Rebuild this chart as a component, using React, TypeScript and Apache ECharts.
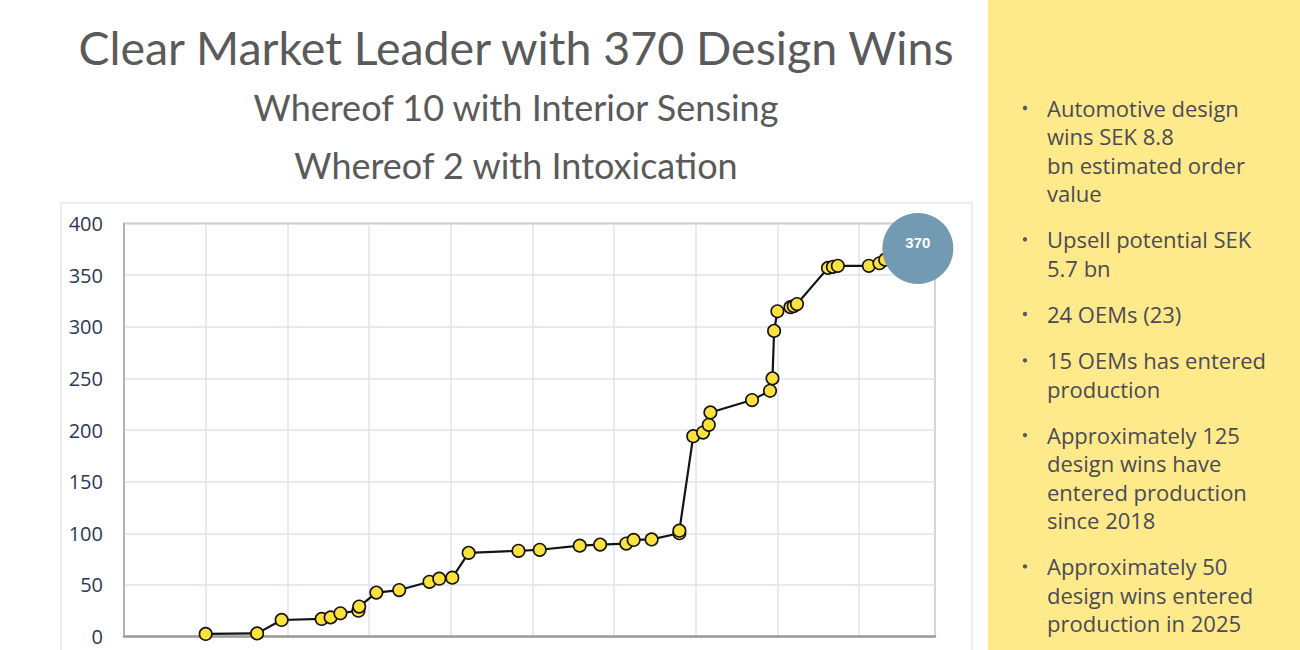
import React, { useEffect, useRef } from "react";
import * as echarts from "echarts";

// Cumulative design wins over time (x = years from axis start, y = total wins)
const winYears = [
  1.0, 1.63, 1.93, 2.42, 2.53, 2.65, 2.87, 2.88, 3.09, 3.37, 3.74, 3.86, 4.02,
  4.22, 4.83, 5.09, 5.58, 5.83, 6.15, 6.24, 6.46, 6.8, 6.8, 6.97, 7.09, 7.16,
  7.18, 7.69, 7.91, 7.94, 7.96, 8.0, 8.16, 8.2, 8.24, 8.62, 8.68, 8.74, 9.12,
  9.25, 9.32,
];
const winTotals = [
  2.5, 3, 16, 17, 18.5, 22.5, 25, 29, 42.5, 45, 53, 56, 57, 81, 83, 84, 88, 89,
  90, 93.5, 94, 100, 102.5, 194, 197.5, 205, 217, 229, 238, 250, 296, 315, 319,
  320, 322, 357, 358, 359, 359, 361.5, 365,
];

// Headline total shown in the bubble
const totalWins = 370;
const totalYear = 9.72;

const yMin = 0;
const yMax = 400;
const yStep = 50;
const xMin = 0;
const xMax = 9.93;
const xStep = 1;

const titleText = "Clear Market Leader with 370 Design Wins";
const subtitleLines = [
  "Whereof 10 with Interior Sensing",
  "Whereof 2 with Intoxication",
];

const bulletItems = [
  ["Automotive design", "wins SEK 8.8", "bn estimated order", "value"],
  ["Upsell potential SEK", "5.7 bn"],
  ["24 OEMs (23)"],
  ["15 OEMs has entered", "production"],
  ["Approximately 125", "design wins have", "entered production", "since 2018"],
  ["Approximately 50", "design wins entered", "production in 2025"],
];

const HEAD_FONT = "Lato, 'Open Sans', sans-serif";
const BODY_FONT = "'Open Sans', Lato, sans-serif";

function buildBulletGraphics() {
  const out: any[] = [];
  const lineH = 28.3;
  const gap = 18.1;
  let y = 108;
  bulletItems.forEach((lines) => {
    out.push({
      type: "circle",
      shape: { cx: 1025, cy: y, r: 2.2 },
      style: { fill: "#5a5a62" },
    });
    lines.forEach((ln) => {
      out.push({
        type: "text",
        style: {
          text: ln,
          x: 1047,
          y,
          fill: "#4b4b55",
          fontSize: 22,
          fontFamily: BODY_FONT,
          textAlign: "left",
          textVerticalAlign: "middle",
        },
      });
      y += lineH;
    });
    y += gap;
  });
  return out;
}

export default function App() {
  const ref = useRef<HTMLDivElement>(null);

  useEffect(() => {
    if (!ref.current) return;
    const chart = echarts.init(ref.current, undefined, { renderer: "svg" });

    const points = winYears.map((x, i) => [x, winTotals[i]]);

    chart.setOption({
      animation: false,
      backgroundColor: "#ffffff",
      grid: {
        left: 124,
        top: 223.5,
        width: 811,
        height: 413,
        show: true,
        borderColor: "#8e8e8e",
        borderWidth: 1.5,
        backgroundColor: "transparent",
      },
      xAxis: {
        type: "value",
        min: xMin,
        max: xMax,
        interval: xStep,
        axisLabel: { show: false },
        axisTick: { show: false },
        axisLine: { show: true, lineStyle: { color: "#9c9c9c", width: 2.5 } },
        splitLine: { show: true, lineStyle: { color: "#dfe4ec", width: 1.5 } },
      },
      yAxis: {
        type: "value",
        min: yMin,
        max: yMax,
        interval: yStep,
        axisTick: { show: false },
        axisLine: { show: true, lineStyle: { color: "#a6a6a6", width: 1.5 } },
        axisLabel: {
          color: "#2a3956",
          fontSize: 20,
          fontFamily: "'Open Sans', sans-serif",
          margin: 21,
        },
        splitLine: { show: true, lineStyle: { color: "#dfe4ec", width: 1.5 } },
      },
      series: [
        {
          type: "line",
          data: points,
          symbol: "circle",
          symbolSize: 12.5,
          showSymbol: true,
          itemStyle: { color: "#fde13c", borderColor: "#141414", borderWidth: 1.6 },
          lineStyle: { color: "#141414", width: 2.2 },
          z: 3,
        },
        {
          type: "scatter",
          data: [[totalYear, totalWins]],
          symbol: "circle",
          symbolSize: 71,
          symbolOffset: [0, -6],
          itemStyle: { color: "#739ab3", opacity: 1 },
          label: {
            show: true,
            position: "inside",
            offset: [0, -6],
            formatter: (p: any) => String(p.value[1]),
            color: "#ffffff",
            fontSize: 15,
            fontWeight: "bold",
            fontFamily: "'Liberation Sans', Arial, sans-serif",
          },
          z: 5,
        },
      ],
      graphic: [
        {
          type: "rect",
          z: -10,
          shape: { x: 61, y: 203, width: 911, height: 460 },
          style: { fill: "none", stroke: "#e3e7ed", lineWidth: 1.5 },
        },
        {
          type: "rect",
          z: -10,
          shape: { x: 988, y: 0, width: 312, height: 650 },
          style: { fill: "#fee98b" },
        },
        {
          type: "text",
          style: {
            text: titleText,
            x: 516,
            y: 47,
            fill: "#5a5a5a",
            fontSize: 46.5,
            fontFamily: HEAD_FONT,
            textAlign: "center",
            textVerticalAlign: "middle",
          },
        },
        ...subtitleLines.map((t, i) => ({
          type: "text",
          style: {
            text: t,
            x: 516,
            y: 107 + i * 58,
            fill: "#5a5a5a",
            fontSize: 36,
            fontFamily: HEAD_FONT,
            textAlign: "center",
            textVerticalAlign: "middle",
          },
        })),
        ...buildBulletGraphics(),
      ],
    });

    return () => chart.dispose();
  }, []);

  return (
    <div
      ref={ref}
      style={{ position: "absolute", left: 0, top: 0, width: 1300, height: 650 }}
    />
  );
}
